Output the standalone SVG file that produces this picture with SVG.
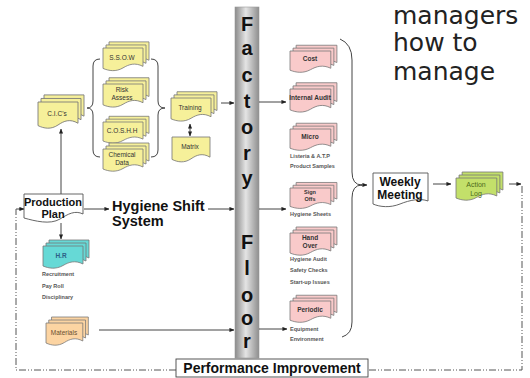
<svg xmlns="http://www.w3.org/2000/svg" xmlns:xlink="http://www.w3.org/1999/xlink" width="530" height="378" viewBox="0 0 530 378">
<style>
text{font-family:"Liberation Sans",Arial,sans-serif;fill:#333}
.lbl{font-size:6.5px;text-anchor:middle}
.sub{font-size:5.5px;font-weight:bold;fill:#555}
.pil{font-size:20px;font-weight:bold;fill:#111;text-anchor:middle}
.big{font-weight:bold;fill:#111}
.ttl{font-family:"DejaVu Sans",sans-serif;font-size:25px;fill:#222}
.ln{stroke:#444;stroke-width:1;fill:none}
.dd{stroke:#555;stroke-width:1;fill:none;stroke-dasharray:7 2 1 2 1 2}
.y{fill:#f6f09a}.p{fill:#f9caca}.t{fill:#66d9d6}.o{fill:#fcd4a2}.g{fill:#c3e06a}
</style>
<defs>
<linearGradient id="pg" x1="0" x2="1" y1="0" y2="0">
<stop offset="0" stop-color="#8a8a8a"/><stop offset="0.45" stop-color="#e4e4e4"/><stop offset="1" stop-color="#8e8e8e"/>
</linearGradient>
<path id="doc" d="M0,0 H40 V18 C32,14 26,16 20,19.5 C13,23.5 6,22.5 0,20 Z" stroke="#777" stroke-width="0.8"/>
<g id="md"><use xlink:href="#doc" x="6" y="-6"/><use xlink:href="#doc" x="3" y="-3"/><use xlink:href="#doc"/></g>
<marker id="ah" viewBox="0 0 6 6" refX="5.5" refY="3" markerWidth="5" markerHeight="5" orient="auto-start-reverse"><path d="M0,0.5 L6,3 L0,5.5 Z" fill="#222"/></marker>
</defs>

<g id="title-text">
<text class="ttl" x="393" y="23.5">managers</text>
<text class="ttl" x="393" y="51">how to</text>
<text class="ttl" x="393" y="80">manage</text>
</g>

<g id="factory-floor">
<rect x="235" y="7" width="24" height="351" fill="url(#pg)" stroke="#999" stroke-width="0.6"/>
<text class="pil" x="247" y="31">F</text>
<text class="pil" x="247" y="55">a</text>
<text class="pil" x="247" y="82">c</text>
<text class="pil" x="247" y="108">t</text>
<text class="pil" x="247" y="134">o</text>
<text class="pil" x="247" y="160">r</text>
<text class="pil" x="247" y="185">y</text>
<text class="pil" x="247" y="249">F</text>
<text class="pil" x="247" y="275">l</text>
<text class="pil" x="247" y="302">o</text>
<text class="pil" x="247" y="325">o</text>
<text class="pil" x="247" y="348">r</text>
</g>

<g id="connectors">
<path class="ln" d="M61,194 V129" marker-end="url(#ah)"/>
<path class="ln" d="M84,209 H109" marker-end="url(#ah)"/>
<path class="ln" d="M208,209 H234" marker-end="url(#ah)"/>
<path class="ln" d="M61,223 V239" marker-end="url(#ah)"/>
<path class="ln" d="M190,124 V136" marker-start="url(#ah)" marker-end="url(#ah)"/>
<path class="ln" d="M221,103 H234" marker-end="url(#ah)"/>
<path class="ln" d="M259,102 H286" marker-end="url(#ah)"/>
<path class="ln" d="M259,209 H286" marker-end="url(#ah)"/>
<path class="ln" d="M99,330 H234" marker-end="url(#ah)"/>
<path class="ln" d="M259,329 H287" marker-end="url(#ah)"/>
<path class="ln" d="M433,184 H451" marker-end="url(#ah)"/>
<path class="ln" d="M509,184 H521" marker-end="url(#ah)"/>
<path class="dd" d="M522,186 V370 H368"/>
<path class="dd" d="M176,370 H16 V209 H21"/>
<path class="ln" d="M17,209 H24" marker-end="url(#ah)"/>
<path class="ln" stroke="#777" d="M100,59 Q93,59 93,66 V101 Q93,108 87,108 Q93,108 93,115 V150 Q93,157 100,157"/>
<path class="ln" stroke="#777" d="M151,59 Q158,59 158,66 V101 Q158,108 165,108 Q158,108 158,115 V150 Q158,157 151,157"/>
<path class="ln" d="M340,39 Q352,44 352,60 V172 Q352,185 362,185 M362,185 Q352,185 352,198 V322 Q352,334 342,337"/>
<path class="ln" d="M361,185 H367" marker-end="url(#ah)"/>
</g>

<g id="cics"><use xlink:href="#md" class="y" transform="translate(38,102) scale(1,1.18)"/><text class="lbl" x="57" y="116">C.I.C's</text></g>
<g id="ssow"><use xlink:href="#md" class="y" transform="translate(103,48) scale(1,1.02)"/><text class="lbl" x="122" y="60">S.S.O.W</text></g>
<g id="risk"><use xlink:href="#md" class="y" transform="translate(103,84) scale(1,1.04)"/><text class="lbl" x="122" y="92">Risk</text><text class="lbl" x="122" y="100">Assess</text></g>
<g id="coshh"><use xlink:href="#md" class="y" transform="translate(103,122) scale(1,0.95)"/><text class="lbl" x="122" y="133">C.O.S.H.H</text></g>
<g id="chem"><use xlink:href="#md" class="y" transform="translate(103,149)"/><text class="lbl" x="122" y="157">Chemical</text><text class="lbl" x="122" y="165">Data</text></g>
<g id="training"><use xlink:href="#md" class="y" transform="translate(171,98) scale(1,1.04)"/><text class="lbl" x="190" y="110">Training</text></g>
<g id="matrix"><use xlink:href="#doc" class="y" transform="translate(172,137) scale(0.95,1.12)"/><text class="lbl" x="190" y="149">Matrix</text></g>

<g id="production-plan"><path d="M24,194 H83 V214 C75,210 68,214 60,219 C50,225 35,221 24,218 Z" fill="#fff" stroke="#555" stroke-width="0.9"/><text class="big" x="53" y="206" font-size="11" text-anchor="middle">Production</text><text class="big" x="53" y="218" font-size="11" text-anchor="middle">Plan</text></g>
<g id="hygiene-shift"><text class="big" x="112" y="211" font-size="14.5">Hygiene Shift</text><text class="big" x="112" y="226" font-size="14.5">System</text></g>

<g id="hr"><use xlink:href="#md" class="t" transform="translate(43,246)"/><text class="lbl" x="61" y="258" style="fill:#2d5f86;font-weight:bold">H.R</text>
<text class="sub" x="42" y="276">Recruitment</text><text class="sub" x="42" y="288">Pay Roll</text><text class="sub" x="42" y="299">Disciplinary</text></g>
<g id="materials"><use xlink:href="#md" class="o" transform="translate(46,323) scale(0.92,1)"/><text class="lbl" x="64" y="335" style="fill:#6a5030">Materials</text></g>

<g id="cost"><use xlink:href="#md" class="p" transform="translate(290,51) scale(1.02,0.96)"/><text class="lbl" x="310" y="61" style="font-weight:bold">Cost</text></g>
<g id="internal-audit"><use xlink:href="#md" class="p" transform="translate(290,89) scale(1.02,1.04)"/><text class="lbl" x="310" y="100" style="font-weight:bold">Internal Audit</text></g>
<g id="micro"><use xlink:href="#md" class="p" transform="translate(290,129) scale(1.02,0.96)"/><text class="lbl" x="310" y="139" style="font-weight:bold">Micro</text>
<text class="sub" x="290" y="158">Listeria &amp; A.T.P</text><text class="sub" x="290" y="168">Product Samples</text></g>
<g id="sign-offs"><use xlink:href="#md" class="p" transform="translate(290,188) scale(1.02,0.92)"/><text class="lbl" x="310" y="194" style="font-weight:bold;font-size:5.5px">Sign</text><text class="lbl" x="310" y="201" style="font-weight:bold;font-size:5.5px">Offs</text>
<text class="sub" x="290" y="216">Hygiene Sheets</text></g>
<g id="hand-over"><use xlink:href="#md" class="p" transform="translate(290,233) scale(1.02,1)"/><text class="lbl" x="310" y="240" style="font-weight:bold">Hand</text><text class="lbl" x="310" y="248" style="font-weight:bold">Over</text>
<text class="sub" x="290" y="261">Hygiene Audit</text><text class="sub" x="290" y="272">Safety Checks</text><text class="sub" x="290" y="284">Start-up Issues</text></g>
<g id="periodic"><use xlink:href="#md" class="p" transform="translate(290,301) scale(1.02,0.96)"/><text class="lbl" x="310" y="312" style="font-weight:bold">Periodic</text>
<text class="sub" x="290" y="331">Equipment</text><text class="sub" x="290" y="341">Environment</text></g>

<g id="weekly-meeting"><path d="M373,173 H428 V201 C420,198 410,200 400,204 C390,208 380,207 373,204 Z" fill="#fff" stroke="#555" stroke-width="0.9"/><text class="big" x="400" y="186" font-size="12" text-anchor="middle">Weekly</text><text class="big" x="400" y="199" font-size="12" text-anchor="middle">Meeting</text></g>
<g id="action-log"><use xlink:href="#md" class="g" transform="translate(456,178) scale(1.02,1)"/><text class="lbl" x="476" y="187" style="fill:#4d6b1a;font-size:7px">Action</text><text class="lbl" x="476" y="196" style="fill:#4d6b1a;font-size:7px">Log</text></g>

<g id="performance-improvement"><rect x="176" y="359" width="192" height="18" fill="#fff" stroke="#444" stroke-width="0.9"/><text class="big" x="272" y="373" font-size="14" text-anchor="middle">Performance Improvement</text></g>
</svg>
